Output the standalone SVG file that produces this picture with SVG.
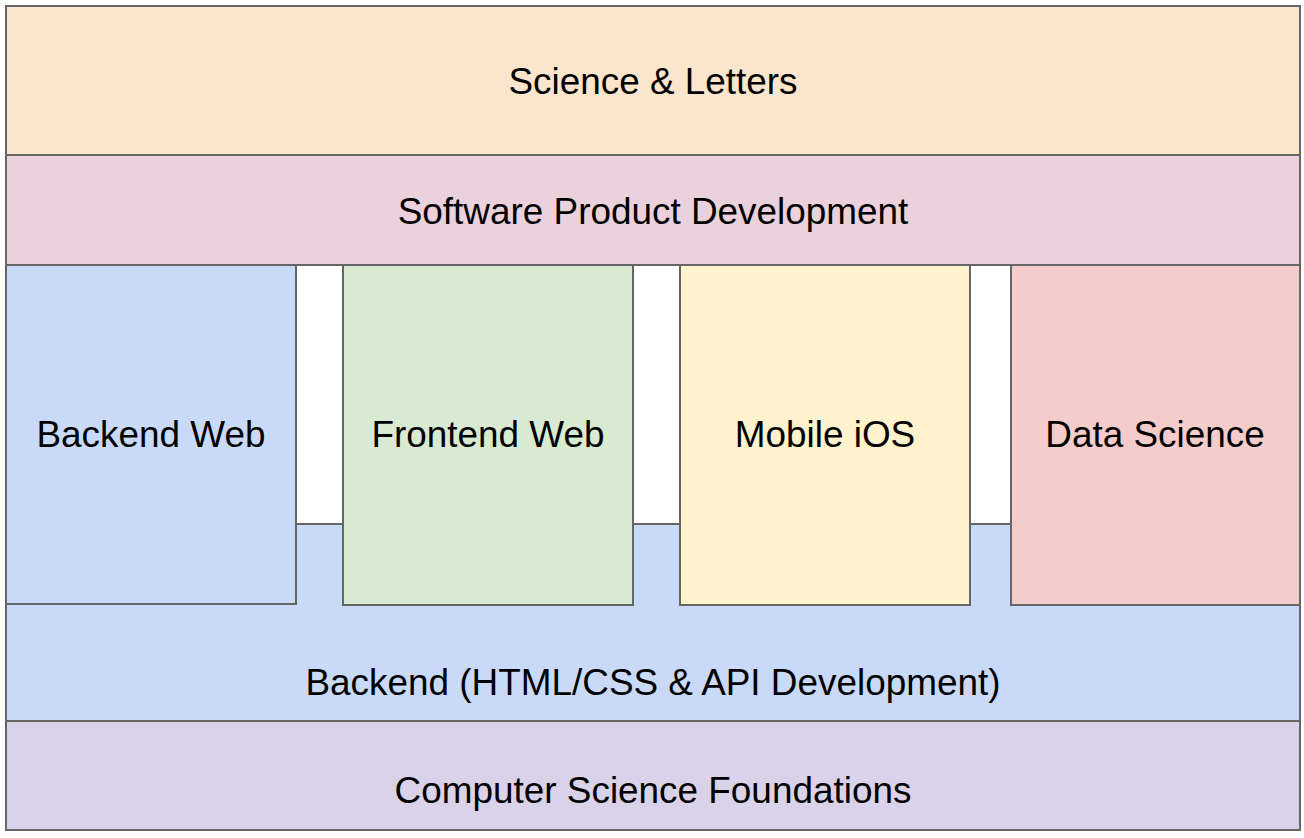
<svg xmlns="http://www.w3.org/2000/svg" width="1304" height="838" viewBox="0 0 1304 838">
<style>
rect{stroke:#666;stroke-width:2}
text{font-family:"Liberation Sans",Arial,sans-serif;font-size:36.9px;fill:#000;text-anchor:middle;dominant-baseline:central}
</style>
<rect x="0" y="0" width="1304" height="838" style="fill:#fff;stroke:none"/>
<g id="science-letters"><rect x="6" y="6" width="1294" height="149" fill="#fce5cd"/><text x="653" y="81">Science &amp; Letters</text></g>
<g id="software-product"><rect x="6" y="155" width="1294" height="110" fill="#ead1dc"/><text x="653" y="211">Software Product Development</text></g>
<g id="backend-band"><rect x="6" y="524" width="1294" height="197" fill="#c9daf8"/><text x="653" y="682">Backend (HTML/CSS &amp; API Development)</text></g>
<g id="backend-web"><rect x="6" y="265" width="290" height="339" fill="#c9daf8"/><text x="151" y="434">Backend Web</text></g>
<g id="frontend-web"><rect x="343" y="265" width="290" height="340" fill="#d9ead3"/><text x="488" y="434">Frontend Web</text></g>
<g id="mobile-ios"><rect x="680" y="265" width="290" height="340" fill="#fff2cc"/><text x="825" y="434">Mobile iOS</text></g>
<g id="data-science"><rect x="1011" y="265" width="289" height="340" fill="#f4cccc"/><text x="1155" y="434">Data Science</text></g>
<g id="cs-foundations"><rect x="6" y="721" width="1294" height="109" fill="#d9d2e9"/><text x="653" y="790">Computer Science Foundations</text></g>
<g id="connectors"></g>
</svg>
